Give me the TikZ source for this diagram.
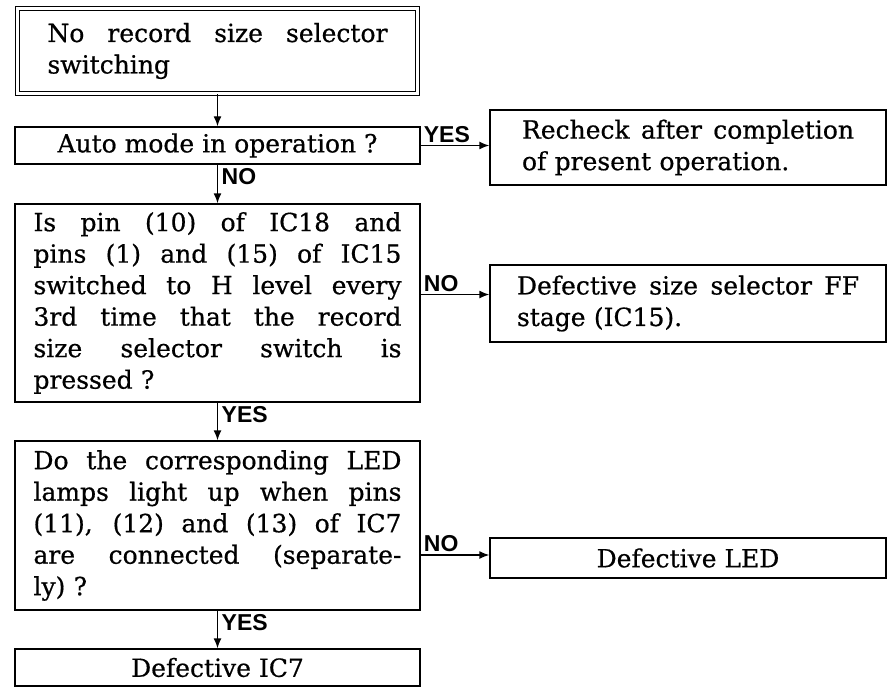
\documentclass[tikz,border=0pt]{standalone}
\usepackage{fontspec}
\setmainfont{DejaVu Serif}[FakeBold=0.6]
\newfontfamily\labfont{Liberation Sans}
\usetikzlibrary{arrows.meta}
\newcommand{\jline}[2]{\leavevmode\hbox to #1{\spaceskip=\fontdimen2\font plus 1fil\relax #2}}
\begin{document}
\begin{tikzpicture}[x=1pt,y=-1pt,
  box/.style={draw, line width=1.4pt, inner sep=0pt, font=\fontsize{25}{31.5}\selectfont},
  lab/.style={font=\labfont\bfseries\fontsize{23}{24}\selectfont, inner sep=0pt},
  arr/.style={line width=1.4pt, -{Latex[length=10pt,width=8pt]}}]
\useasboundingbox (0,0) rectangle (888,687);
% left column
\node[box, double, double distance=3pt, minimum width=400pt, minimum height=85pt, text width=340pt, align=left] (b1) at (217.5,51) {\jline{340pt}{No record size selector}\\switching};
\node[box, minimum width=405pt, minimum height=37pt] (b2) at (217.5,145.5) {Auto mode in operation ?};
\node[box, minimum width=405pt, minimum height=198pt, text width=368pt, align=left] (b3) at (217.5,303) {\jline{368pt}{Is pin (10) of IC18 and}\\\jline{368pt}{pins (1) and (15) of IC15}\\\jline{368pt}{switched to H level every}\\\jline{368pt}{3rd time that the record}\\\jline{368pt}{size selector switch is}\\pressed ?};
\node[box, minimum width=405pt, minimum height=169pt, text width=368pt, align=left] (b4) at (217.5,525.5) {\jline{368pt}{Do the corresponding LED}\\\jline{368pt}{lamps light up when pins}\\\jline{368pt}{(11), (12) and (13) of IC7}\\\jline{368pt}{are connected (separate-}\\ly) ?};
\node[box, minimum width=405pt, minimum height=37pt] (b5) at (217.5,667.5) {Defective IC7};
% right column
\node[box, minimum width=396pt, minimum height=75pt, text width=332pt, align=left] (r1) at (688,147.5) {\jline{332pt}{Recheck after completion}\\of present operation.};
\node[box, minimum width=396pt, minimum height=77pt, text width=342pt, align=left] (r2) at (688,303.5) {\jline{342pt}{Defective size selector FF}\\stage (IC15).};
\node[box, minimum width=396pt, minimum height=40pt] (r3) at (688,558) {Defective LED};
% connector ends
\coordinate (a1) at (b2.east);
\coordinate (a2) at ([yshift=9pt]r2.west);
\coordinate (a3) at ([yshift=3pt]r3.west);
% connectors
\draw[arr] (b1.south) -- (b2.north);
\draw[arr] (b2.south) -- (b3.north);
\draw[arr] (b3.south) -- (b4.north);
\draw[arr] (b4.south) -- (b5.north);
\draw[arr] (a1) -- (a1 -| r1.west);
\draw[arr] (a2 -| b3.east) -- (a2);
\draw[arr] (a3 -| b4.east) -- (a3);
% labels
\node[lab, anchor=north west] (l1) at ([xshift=4pt,yshift=-4pt]b2.south) {NO};
\node[lab, anchor=north west] (l2) at ([xshift=4pt,yshift=-4pt]b3.south) {YES};
\node[lab, anchor=north west] (l3) at ([xshift=4pt,yshift=-4pt]b4.south) {YES};
\node[lab, anchor=south west] (l4) at ([xshift=3pt,yshift=3pt]a1) {YES};
\node[lab, anchor=south west] (l5) at ([xshift=3pt,yshift=3pt]a2 -| b3.east) {NO};
\node[lab, anchor=south west] (l6) at ([xshift=3pt,yshift=3pt]a3 -| b4.east) {NO};
\end{tikzpicture}
\end{document}
